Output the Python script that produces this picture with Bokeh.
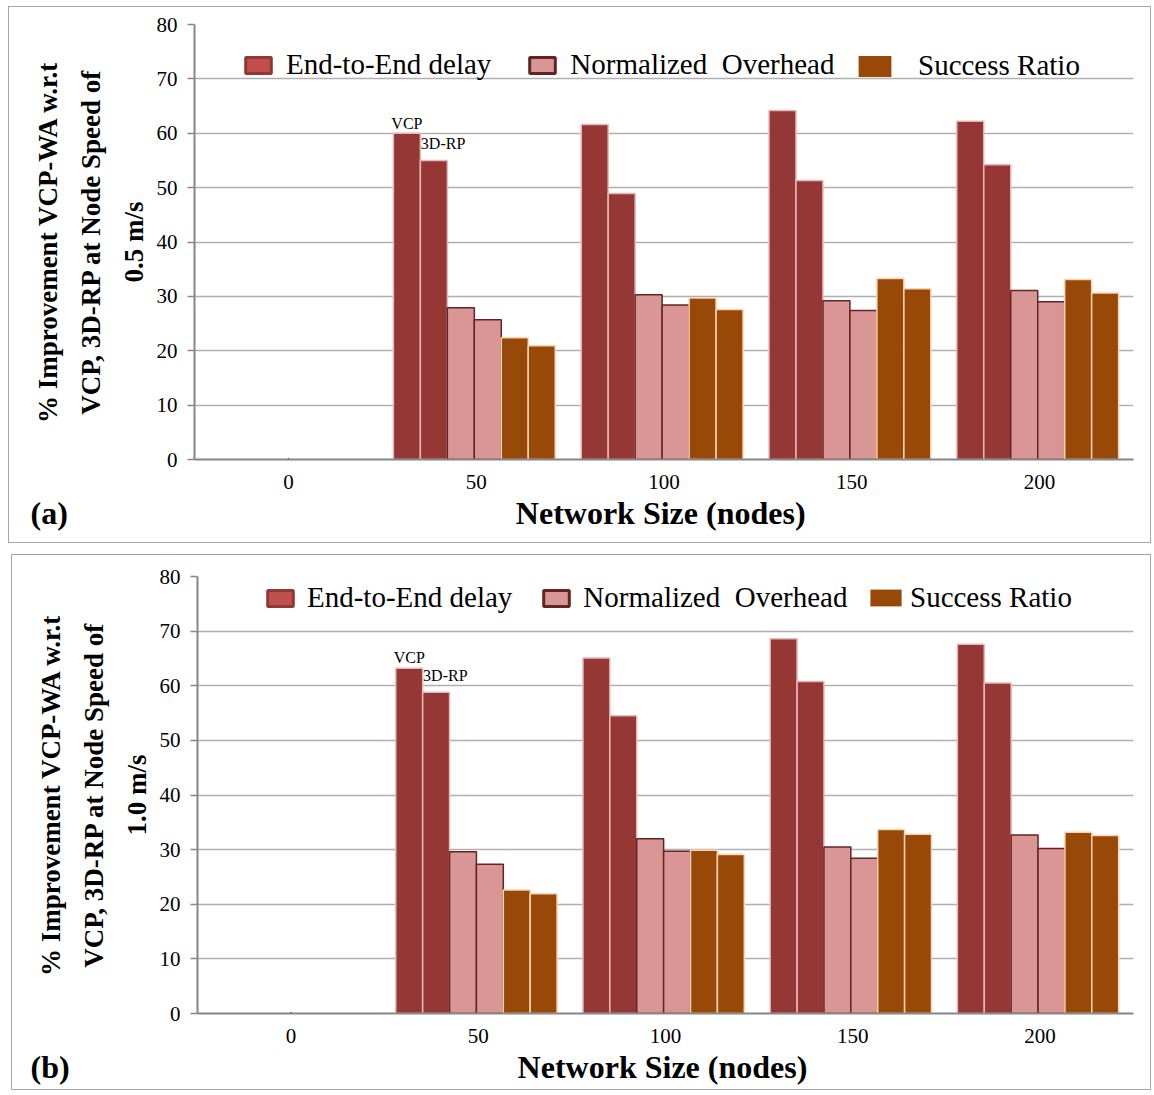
from bokeh.plotting import figure
from bokeh.layouts import column
from bokeh.models import ColumnDataSource, Legend, LegendItem, FixedTicker, Title
from bokeh.transform import dodge
from bokeh.core.properties import value
from bokeh.embed import file_html
from bokeh.resources import INLINE

# ---------------- data ----------------
network_sizes = ["0", "50", "100", "150", "200"]
bar_groups = ["50", "100", "150", "200"]
y_ticks = [0, 10, 20, 30, 40, 50, 60, 70, 80]
series_names = ["End-to-End delay", "Normalized  Overhead", "Success Ratio"]
x_title = "Network Size (nodes)"

# panel (a): node speed 0.5 m/s
delay_vcp_a = [60.0, 61.6, 64.2, 62.2]
delay_3drp_a = [55.0, 48.9, 51.3, 54.2]
overhead_vcp_a = [27.9, 30.3, 29.2, 31.1]
overhead_3drp_a = [25.7, 28.4, 27.4, 29.0]
success_vcp_a = [22.4, 29.7, 33.3, 33.1]
success_3drp_a = [20.9, 27.6, 31.4, 30.6]

# panel (b): node speed 1.0 m/s
delay_vcp_b = [63.2, 65.1, 68.6, 67.6]
delay_3drp_b = [58.8, 54.5, 60.8, 60.5]
overhead_vcp_b = [29.6, 32.0, 30.5, 32.7]
overhead_3drp_b = [27.3, 29.7, 28.4, 30.2]
success_vcp_b = [22.6, 29.9, 33.7, 33.2]
success_3drp_b = [21.9, 29.1, 32.8, 32.6]

SERIF = "Liberation Serif"
BAR_W = 0.1436
OFFS = [(k - 2.5) * BAR_W - 0.01 for k in range(6)]

DELAY_FILL, DELAY_LINE = "#953735", "#e6b9b8"
OH_FILL, OH_LINE = "#d99694", "#632523"
SR_FILL, SR_LINE = "#984807", "#fbd4b4"


def make_panel(vals, ylabel, tag, width, height, ml, mb, mr, mt, leg1, leg2,
               tag_offset, lbl_off):
    src = ColumnDataSource(dict(
        x=bar_groups,
        dv=vals[0], dr=vals[1], ov=vals[2], orp=vals[3], sv=vals[4], sr=vals[5],
    ))
    p = figure(x_range=network_sizes, y_range=(0, 80), width=width, height=height,
               output_backend="svg", toolbar_location=None,
               min_border_left=ml, min_border_right=mr, min_border_top=mt,
               min_border_bottom=mb)
    p.x_range.range_padding = 0
    p.outline_line_color = None
    p.background_fill_color = "white"
    p.border_fill_color = "white"
    p.styles = {"border": "1px solid #a6a6a6"}

    cols = ["dv", "dr", "ov", "orp", "sv", "sr"]
    fills = [DELAY_FILL, DELAY_FILL, OH_FILL, OH_FILL, SR_FILL, SR_FILL]
    lines = [DELAY_LINE, DELAY_LINE, OH_LINE, OH_LINE, SR_LINE, SR_LINE]
    for k in range(6):
        p.vbar(x=dodge("x", OFFS[k], range=p.x_range), top=cols[k], width=BAR_W,
               source=src, fill_color=fills[k], line_color=lines[k], line_width=1.5)

    # bar labels on the first group
    lsrc = ColumnDataSource(dict(x=[bar_groups[0]], v=[vals[0][0]], r=[vals[1][0]]))
    p.text(x=dodge("x", OFFS[0], range=p.x_range), y="v", text=value("VCP"),
           source=lsrc, text_font=value(SERIF), text_font_size="16px",
           text_align="center", text_baseline="bottom", y_offset=lbl_off[0],
           text_color="black")
    p.text(x=dodge("x", OFFS[1], range=p.x_range), y="r", text=value("3D-RP"),
           source=lsrc, text_font=value(SERIF), text_font_size="16px",
           text_align="left", text_baseline="bottom", x_offset=-13,
           y_offset=lbl_off[1], text_color="black")

    # legend placeholder renderers (carry the legend swatch styles; their
    # hairline bar lies below the visible y-range)
    def dummy():
        return ColumnDataSource(dict(x=["0"], top=[-20.0], bottom=[-30.0]))
    r1 = p.vbar(x="x", top="top", bottom="bottom", width=0.001, source=dummy(),
                fill_color="#c0504d", line_color="#943634", line_width=3)
    r2 = p.vbar(x="x", top="top", bottom="bottom", width=0.001, source=dummy(),
                fill_color="#d99694", line_color="#632523", line_width=3)
    r3 = p.vbar(x="x", top="top", bottom="bottom", width=0.001, source=dummy(),
                fill_color="#984807", line_color=None)
    common = dict(orientation="horizontal", label_text_font=SERIF,
                  label_text_font_size="29px", label_text_color="black",
                  padding=4, margin=0, border_line_color=None,
                  background_fill_alpha=0)
    lg1 = Legend(items=[LegendItem(label=series_names[0], renderers=[r1]),
                        LegendItem(label=series_names[1], renderers=[r2])],
                 location=leg1["loc"], glyph_width=32, glyph_height=20,
                 label_standoff=leg1["so"], spacing=leg1["sp"], **common)
    lg2 = Legend(items=[LegendItem(label=series_names[2], renderers=[r3])],
                 location=leg2["loc"], glyph_width=leg2["gw"],
                 glyph_height=leg2["gh"], label_standoff=leg2["so"], **common)
    p.add_layout(lg1, "center")
    p.add_layout(lg2, "center")

    # grid & axes
    p.xgrid.grid_line_color = None
    p.ygrid.grid_line_color = "#b0b0b0"
    p.ygrid.grid_line_width = 1.5
    p.yaxis.ticker = FixedTicker(ticks=y_ticks)
    for ax in (p.xaxis, p.yaxis):
        ax.axis_line_color = "#868686"
        ax.axis_line_width = 2
        ax.major_label_text_font = SERIF
        ax.major_label_text_font_size = "21px"
        ax.major_label_text_color = "black"
        ax.axis_label_text_font = SERIF
        ax.axis_label_text_font_style = "bold"
        ax.axis_label_text_color = "black"
    p.xaxis.major_tick_line_color = None
    p.xaxis.minor_tick_line_color = None
    p.xaxis.major_label_standoff = 9
    p.yaxis.major_tick_line_color = "#868686"
    p.yaxis.major_tick_line_width = 1.5
    p.yaxis.major_tick_in = 0
    p.yaxis.major_tick_out = 7
    p.yaxis.minor_tick_line_color = None
    p.yaxis.major_label_standoff = 10
    p.yaxis.axis_label = ylabel
    p.yaxis.axis_label_text_font_size = "27px"
    p.yaxis.axis_label_text_line_height = 1.42
    p.yaxis.axis_label_standoff = 5

    # panel tag and x-axis title on one row below the axis
    gap = "\u00a0" * 56
    p.add_layout(Title(text=tag + gap + x_title, align="left", offset=tag_offset,
                       text_font=SERIF, text_font_size="32px",
                       text_font_style="bold", text_color="black",
                       standoff=2), "below")
    return p


pa = make_panel([delay_vcp_a, delay_3drp_a, overhead_vcp_a, overhead_3drp_a,
                 success_vcp_a, success_3drp_a],
                "% Improvement VCP-WA w.r.t\nVCP, 3D-RP at Node Speed of\n0.5 m/s",
                "(a)", 1143, 537, 185, 85, 19, 17,
                dict(loc=(48, 378), so=12, sp=35),
                dict(loc=(660, 377), gw=41, gh=26, so=23),
                -164, (-1, -8))
pb = make_panel([delay_vcp_b, delay_3drp_b, overhead_vcp_b, overhead_3drp_b,
                 success_vcp_b, success_3drp_b],
                "% Improvement VCP-WA w.r.t\nVCP, 3D-RP at Node Speed of\n1.0 m/s",
                "(b)", 1140, 536, 185, 78, 16, 21,
                dict(loc=(67, 399), so=11, sp=28),
                dict(loc=(669, 399), gw=39, gh=21, so=5),
                -167, (-2, -8))
pa.margin = (6, 0, 0, 8)
pb.margin = (0, 0, 0, 11)

layout = column(pa, pb, spacing=11)
open("out.html", "w").write(file_html(layout, INLINE))
